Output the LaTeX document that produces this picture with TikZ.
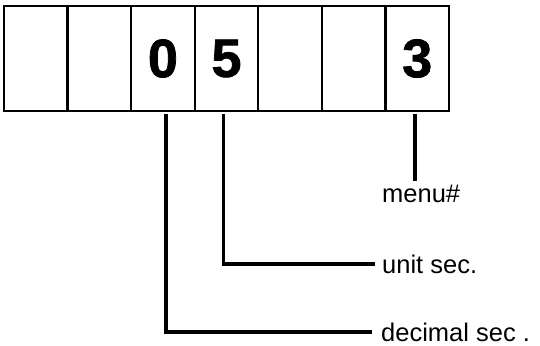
\documentclass[tikz,border=0pt]{standalone}
\usepackage{fontspec}
\setmainfont{Liberation Sans}
\newfontfamily\digitface{Liberation Sans Bold}[FakeBold=1.4]
\begin{document}
\begin{tikzpicture}[x=1pt,y=-1pt,
  cell/.style={draw, line width=2.2pt, minimum width=63.57pt, minimum height=105pt,
               inner sep=0pt, font=\fontsize{54}{60}\selectfont\digitface},
  lbl/.style={inner sep=0pt, font=\fontsize{25.5}{30}\selectfont},
  lead/.style={line width=3.4pt}]
\useasboundingbox (0,0) rectangle (540,345);

% row of seven display cells
\foreach \i/\d in {1/,2/,3/0,4/5,5/,6/,7/3}
  \node[cell] (c\i) at ({4+(\i-0.5)*63.57},58.5) {\d};

% captions
\node[lbl, anchor=base west] (menu) at (382,202) {menu\#};
\node[lbl, anchor=base west] (unit) at (382,273) {unit sec.};
\node[lbl, anchor=base west] (dec)  at (381,341) {decimal sec .};

% leader lines from the cells to their captions
\draw[lead] ([xshift=-2.2pt,yshift=-2pt]c7.south) -- ++(0,67);
\draw[lead] ([xshift=-3pt,yshift=-2pt]c4.south) |- ([xshift=-7pt]unit.west);
\draw[lead] ([xshift=3pt,yshift=-2pt]c3.south) |- ([xshift=-9pt]dec.west);
\end{tikzpicture}
\end{document}
